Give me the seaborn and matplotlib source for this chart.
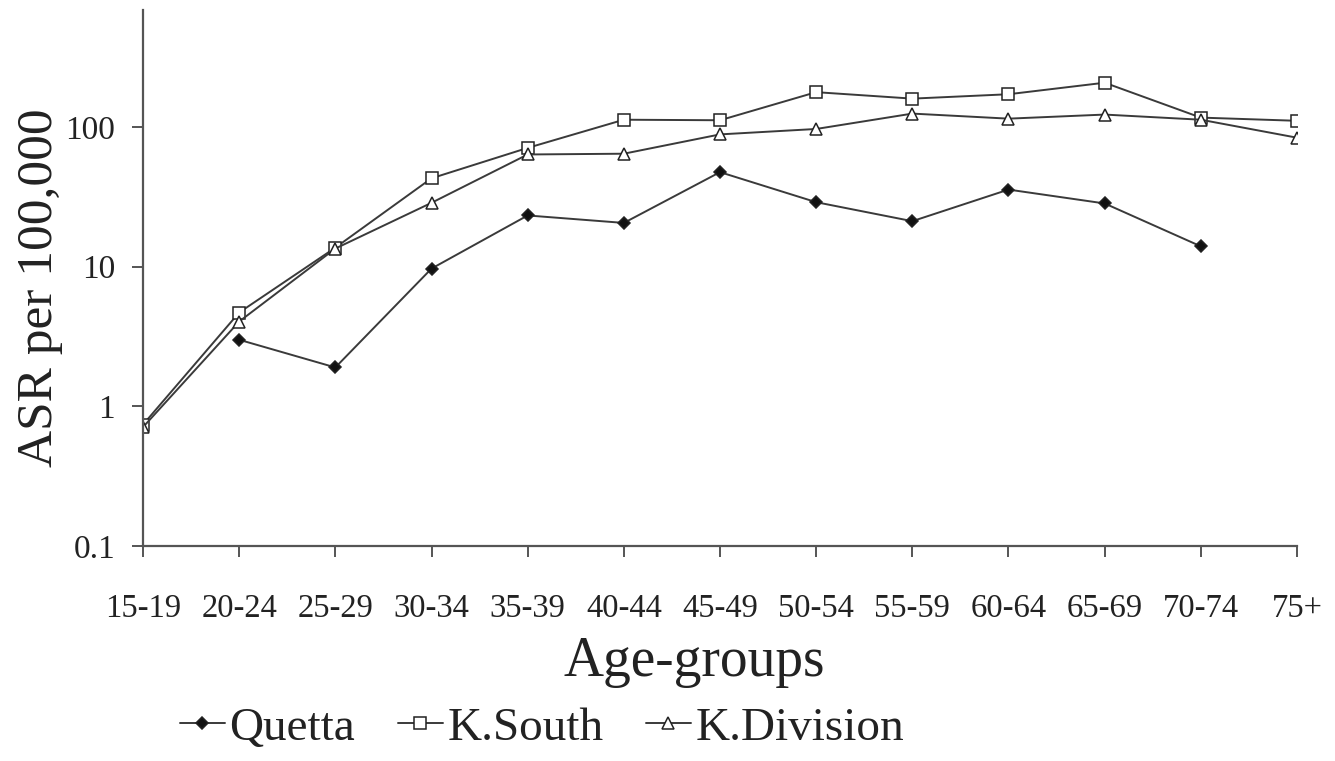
import numpy as np
import pandas as pd
import seaborn as sns
import matplotlib.pyplot as plt

# age groups on the x axis
age_groups = ['15-19', '20-24', '25-29', '30-34', '35-39', '40-44', '45-49',
              '50-54', '55-59', '60-64', '65-69', '70-74', '75+']

# ASR per 100,000 (nan = no point drawn)
quetta = [np.nan, 3.0, 1.9, 9.7, 23.3, 20.6, 47.6, 29.0, 21.2, 35.7, 28.4, 14.0, np.nan]
k_south = [0.74, 4.7, 13.7, 43.0, 71.0, 113.0, 112.0, 178.0, 160.0, 172.0, 208.0, 117.0, 111.0]
k_division = [0.71, 4.05, 13.5, 28.7, 63.7, 64.5, 88.7, 97.0, 125.0, 115.0, 123.0, 113.0, 84.0]

y_ticks = [0.1, 1, 10, 100]
y_tick_labels = ['0.1', '1', '10', '100']

series = {'Quetta': quetta, 'K.South': k_south, 'K.Division': k_division}
styles = {
    'Quetta': dict(marker='D', markersize=6, markerfacecolor='#111111'),
    'K.South': dict(marker='s', markersize=8, markerfacecolor='white'),
    'K.Division': dict(marker='^', markersize=8, markerfacecolor='white'),
}

df = pd.DataFrame({
    'pos': np.tile(np.arange(len(age_groups)), len(series)),
    'group': np.repeat(list(series.keys()), len(age_groups)),
    'asr': np.concatenate([series[k] for k in series]),
})

sns.set_style('white')
plt.rcParams['font.family'] = ['Liberation Serif', 'DejaVu Serif']

fig = plt.figure(figsize=(13.35, 7.61), dpi=100)
ax = fig.add_axes([143 / 1335, 1 - 546 / 761, (1297 - 143) / 1335, (546 - 10) / 761])

line_col = '#3a3a3a'
for name in series:
    sub = df[df['group'] == name].dropna()
    sns.lineplot(data=sub, x='pos', y='asr', ax=ax, color=line_col, linewidth=1.4,
                 markeredgecolor='#222222', markeredgewidth=1.1, label=name,
                 legend=False, **styles[name])

ax.set_yscale('log')
ax.set_ylim(0.1, 690)
ax.set_xlim(0, len(age_groups) - 1)
ax.set_yticks(y_ticks)
ax.set_yticklabels(y_tick_labels)
ax.minorticks_off()
ax.set_xticks(np.arange(len(age_groups)))
ax.set_xticklabels(age_groups)

for side in ['top', 'right']:
    ax.spines[side].set_visible(False)
for side in ['left', 'bottom']:
    ax.spines[side].set_color('#555555')
    ax.spines[side].set_linewidth(1.6)

ax.tick_params(axis='x', direction='out', length=8, width=1.4, color='#555555',
               pad=26, labelsize=23.5, labelcolor='#222222', bottom=True)
ax.tick_params(axis='y', direction='out', length=8, width=1.4, color='#555555',
               pad=12, labelsize=24, labelcolor='#222222', left=True)

ax.set_ylabel('ASR per 100,000', fontsize=37, color='#222222')
ax.yaxis.set_label_coords(-0.069, 0.482)
ax.set_xlabel('Age-groups', fontsize=40, color='#222222')
ax.xaxis.set_label_coords(0.478, -0.168)

handles, labels = ax.get_legend_handles_labels()
fig.legend(handles, labels, loc='center', bbox_to_anchor=(542 / 1335, 1 - 728 / 761),
           ncol=3, frameon=False, fontsize=34, handlelength=0.95, handletextpad=0.1,
           columnspacing=0.9, labelcolor='#222222')

plt.savefig('out.png', dpi=100)
plt.close()
